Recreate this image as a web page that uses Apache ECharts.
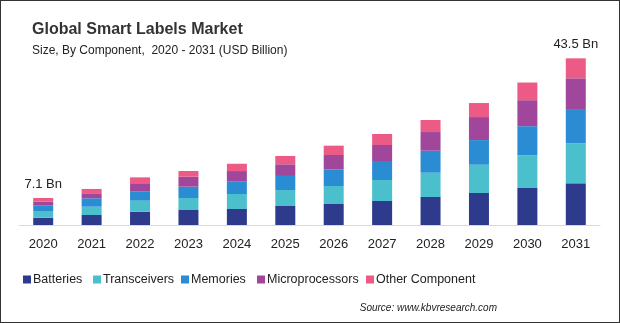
<!DOCTYPE html>
<html>
<head>
<meta charset="utf-8">
<script src="https://cdn.jsdelivr.net/npm/echarts@6/dist/echarts.min.js"></script>
<style>
html,body{margin:0;padding:0;background:#fff;}
#frame{position:absolute;left:0;top:0;width:618px;height:321px;border:1px solid #333;}
#chart{position:absolute;left:0;top:0;width:620px;height:323px;}
</style>
</head>
<body>
<div id="frame"></div>
<div id="chart"></div>
<script>
var years = ['2020','2021','2022','2023','2024','2025','2026','2027','2028','2029','2030','2031'];
var batteries      = [1.90, 2.60, 3.47, 3.90, 4.17, 4.95, 5.47, 6.25, 7.29, 8.33, 9.63, 10.86];
var transceivers   = [1.74, 2.17, 2.86, 3.13, 3.90, 4.17, 4.69, 5.47, 6.33, 7.37, 8.50, 10.40];
var memories       = [1.39, 2.19, 2.34, 2.95, 3.20, 3.65, 4.34, 4.95, 5.73, 6.42, 7.60, 8.94];
var microprocessors= [1.04, 1.30, 2.00, 2.60, 2.78, 3.04, 3.73, 4.17, 4.86, 5.99, 6.77, 8.00];
var otherComponent = [0.96, 1.13, 1.74, 1.48, 1.90, 2.17, 2.43, 2.86, 3.13, 3.65, 4.60, 5.20];
var totalLabels    = ['7.1 Bn','','','','','','','','','','','43.5 Bn'];

var names = ['Batteries','Transceivers','Memories','Microprocessors','Other Component'];
var colors = ['#2e3a8c','#4bbfcc','#2a8dd4','#a0479c','#ec5a86'];
var dataSets = [batteries, transceivers, memories, microprocessors, otherComponent];
var legendLeft = [18, 88, 176, 252, 361];

var chart = echarts.init(document.getElementById('chart'), null, {renderer:'canvas'});
var font = 'Liberation Sans, Arial, sans-serif';
var series = dataSets.map(function(d, i){
  var s = {
    name: names[i], type:'bar', stack:'total', data:d, barWidth:20,
    itemStyle:{color:colors[i]}, emphasis:{disabled:true}
  };
  if (i === 4) {
    s.label = {show:true, position:'top', distance:7, color:'#222', fontSize:13, fontFamily:font,
      formatter:function(p){return totalLabels[p.dataIndex];}};
  }
  return s;
});
var legends = names.map(function(n, i){
  return {data:[n], left:legendLeft[i], top:268, itemWidth:8, itemHeight:8,
    icon:'rect', textStyle:{fontSize:12.5, color:'#222', fontFamily:font, padding:[0,0,0,-3]}};
});
chart.setOption({
  animation:false,
  textStyle:{fontFamily:font},
  title:[
    {text:'Global Smart Labels Market', left:27, top:17,
     textStyle:{fontSize:16, fontWeight:'bold', color:'#333', fontFamily:font}},
    {text:'Size, By Component,  2020 - 2031 (USD Billion)', left:27, top:40,
     textStyle:{fontSize:12, fontWeight:'normal', color:'#222', fontFamily:font}},
    {text:'Source: www.kbvresearch.com', right:118, top:298,
     textStyle:{fontSize:10, fontWeight:'normal', fontStyle:'italic', color:'#222', fontFamily:font}}
  ],
  legend:legends,
  grid:{left:19, right:20, top:33, bottom:98},
  xAxis:{type:'category', data:years,
    axisLine:{lineStyle:{color:'#d9d9d9'}}, axisTick:{show:false},
    axisLabel:{color:'#222', fontSize:13, margin:13, fontFamily:font}},
  yAxis:{type:'value', min:0, max:50, show:false, splitLine:{show:false}},
  series:series
});
</script>
</body>
</html>
